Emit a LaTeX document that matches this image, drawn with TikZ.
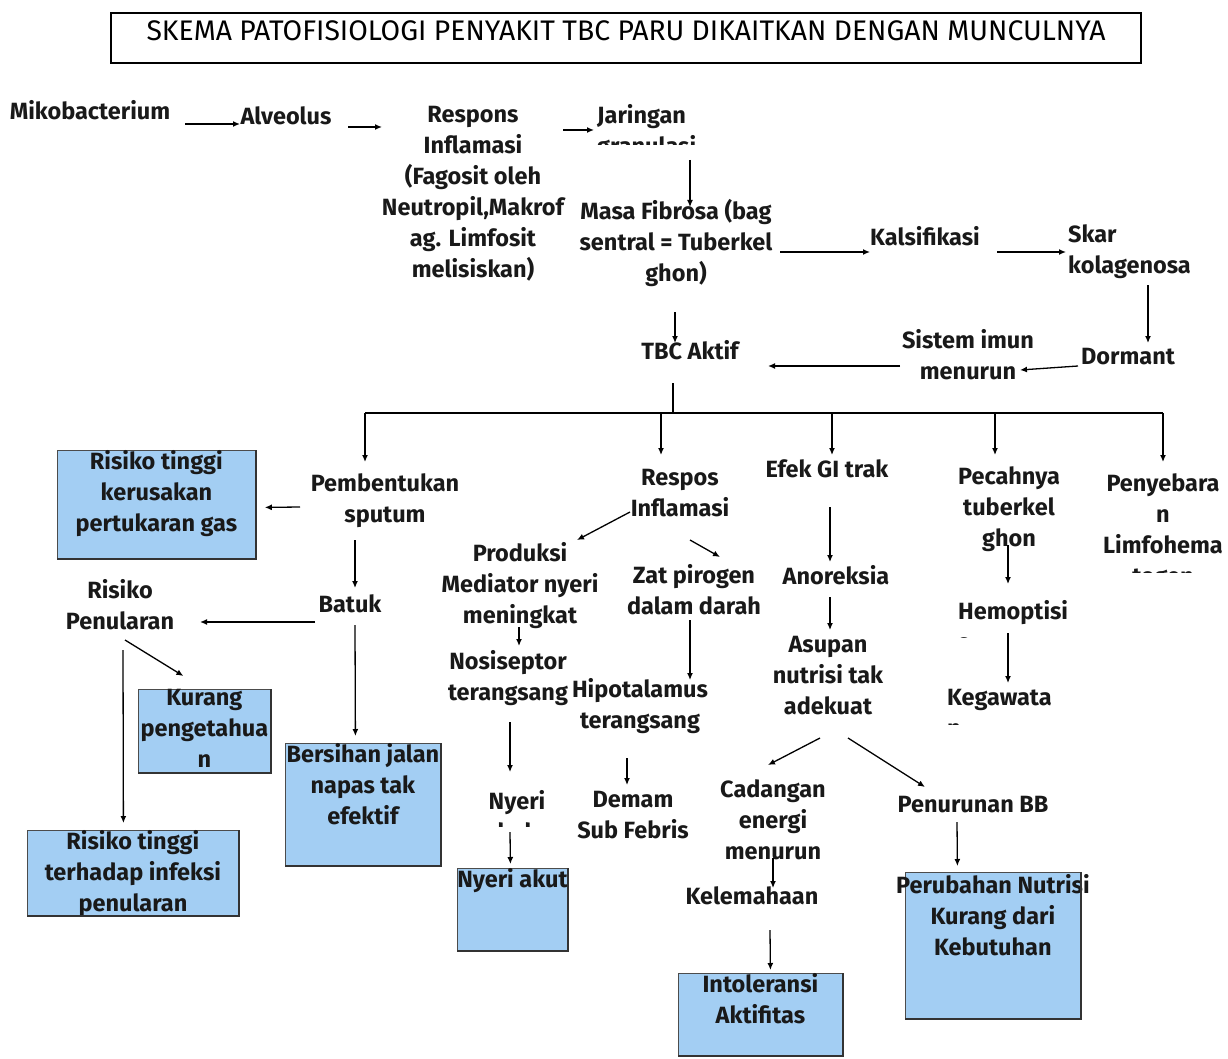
\documentclass[tikz,border=0pt]{standalone}
\usepackage{fontspec}
\setmainfont{Fira Sans}
\usetikzlibrary{arrows.meta}
\definecolor{boxblue}{RGB}{163,206,243}
\begin{document}
\begin{tikzpicture}[x=1pt,y=-1pt,
  t/.style={font=\fontsize{23.5}{31}\selectfont\bfseries, inner sep=0pt, align=center, text=black!90},
  tl/.style={t, align=left, anchor=west},
  arr/.style={-{Latex[length=7pt,width=6pt]}, line width=1.3pt},
  ln/.style={line width=1.3pt},
  box/.style={draw=black!70, line width=0.8pt, fill=boxblue, inner sep=0pt, anchor=north west, text=black!90, font=\fontsize{23.5}{31}\selectfont\bfseries},
  edge3/.style={line width=2.4pt, black!80}
]
\useasboundingbox (0,0) rectangle (1228,1059);

% title
\node[draw=black, line width=2.2pt, anchor=north west, inner sep=0pt] (title) at (110,12)
  {\parbox[c][50pt][t]{1030pt}{\centering\fontsize{28.3}{34}\selectfont\rule{0pt}{27pt}SKEMA PATOFISIOLOGI PENYAKIT TBC PARU DIKAITKAN DENGAN MUNCULNYA}};

% top chain
\node[t] (mik) at (90,110) {Mikobacterium};
\node[t] (alv) at (286,116) {Alveolus};
\node[t] (resp) at (473,193.5) {Respons\\Inflamasi\\(Fagosit oleh\\Neutropil,Makrof\\ag. Limfosit\\melisiskan)};
\begin{scope}
  \clip (590,95) rectangle (770,144.5);
  \node[tl] (jar) at (597,132.5) {Jaringan\\granulasi};
\end{scope}
\node[t] (masa) at (676,243) {Masa Fibrosa (bag\\sentral = Tuberkel\\ghon)};
\node[t] (kal) at (925,236) {Kalsifikasi};
\node[tl] (skar) at (1068,252) {Skar\\kolagenosa};
\node[t] (dorm) at (1128,357) {Dormant};
\node[t] (sis) at (968,355) {Sistem imun\\menurun};
\node[t] (tbc) at (690,350) {TBC Aktif};

\draw[arr] ([shift={(95,14)}]mik.center) -- ([shift={(-46,8)}]alv.center);
\draw[arr] ([shift={(62,11)}]alv.center) -- ([shift={(-91,-66.5)}]resp.center);
\draw[arr] ([shift={(90,-63.5)}]resp.center) -- ([shift={(-3,-2.5)}]jar.west);
\draw[arr] ([shift={(93,27.5)}]jar.west) -- ([shift={(14,-36)}]masa.center);
\draw[arr] ([shift={(104,9)}]masa.center) -- ([shift={(-55,16)}]kal.center);
\draw[arr] ([shift={(72,16)}]kal.center) -- ([shift={(-2,0)}]skar.west);
\draw[arr] ([shift={(80,33)}]skar.west) -- ([shift={(20,-14)}]dorm.center);
\draw[arr] ([shift={(-50,9)}]dorm.center) -- ([shift={(52,15)}]sis.center);
\draw[arr] ([shift={(-68,11)}]sis.center) -- ([shift={(78,16)}]tbc.center);
\draw[arr] ([shift={(-1,69)}]masa.center) -- ([shift={(-15,-7)}]tbc.center);

% bus
\coordinate (b1) at (365,413);
\coordinate (b2) at (661,413);
\coordinate (b3) at (832,413);
\coordinate (b4) at (995,413);
\coordinate (b5) at (1163,413);
\draw[ln] ([shift={(-17,33)}]tbc.center) -- ([shift={(-17,63)}]tbc.center);
\draw[ln] (b1) -- (b5);

% level 2 nodes
\node[t] (pemb) at (385,501) {Pembentukan\\sputum};
\node[t] (respos) at (680,493) {Respos\\Inflamasi};
\node[t] (efek) at (827,469) {Efek GI trak};
\node[t] (pec) at (1009,509) {Pecahnya\\tuberkel\\ghon};
\begin{scope}
  \clip (1080,460) rectangle (1228,572.5);
  \node[t] (peny) at (1163,531.5) {Penyebara\\n\\Limfohema\\togen};
\end{scope}

\draw[arr] (b1) -- ([shift={(-20,-39)}]pemb.center);
\draw[arr] (b2) -- ([shift={(-19,-38)}]respos.center);
\draw[arr] (b3) -- ([shift={(5,-14)}]efek.center);
\draw[arr] (b4) -- ([shift={(-14,-54)}]pec.center);
\draw[arr] (b5) -- ([shift={(0,-69.5)}]peny.center);

% left branch
\node[box] (rk1) at (57,450) {\parbox[c][108pt][t]{198pt}{\centering\rule{0pt}{17pt}Risiko tinggi\\kerusakan\\pertukaran gas}};
\node[t] (batuk) at (350,604) {Batuk};
\node[t] (rp) at (120,605) {Risiko\\Penularan};
\node[box] (kur) at (138,689) {\parbox[c][83pt][t]{132pt}{\centering\rule{0pt}{15pt}Kurang\\pengetahua\\n}};
\node[box] (rti) at (27,830) {\parbox[c][85pt][t]{211pt}{\centering\rule{0pt}{17pt}Risiko tinggi\\terhadap infeksi\\penularan}};
\node[box] (bers) at (285,743) {\parbox[c][122pt][t]{155pt}{\centering\rule{0pt}{15pt}\makebox[\linewidth]{Bersihan jalan}\\napas tak\\efektif}};

\draw[arr] ([shift={(-85,6)}]pemb.center) -- ([shift={(9,3)}]rk1.east);
\draw[arr] ([shift={(-30,39)}]pemb.center) -- ([shift={(5,-16)}]batuk.center);
\draw[arr] ([shift={(-35,18)}]batuk.center) -- ([shift={(80,17)}]rp.center);
\draw[arr] ([shift={(5,35)}]rp.center) -- ([shift={(-21,-13)}]kur.north);
\draw[arr] ([shift={(3,45)}]rp.center) -- ([shift={(-9.5,-7)}]rti.north);
\draw[arr] ([shift={(5,21)}]batuk.center) -- ([shift={(-7.5,-7)}]bers.north);

% middle branch
\node[t] (prod) at (520,586) {Produksi\\Mediator nyeri\\meningkat};
\node[t] (zat) at (694,590) {Zat pirogen\\dalam darah};
\node[t] (nos) at (508,678) {Nosiseptor\\terangsang};
\begin{scope}
  \clip (450,770) rectangle (590,826.5);
  \node[t] (nyeri) at (517,815.5) {Nyeri\\dada};
\end{scope}
\node[box] (nyak) at (457,868) {\parbox[c][82pt][t]{110pt}{\centering\rule{0pt}{18pt}\makebox[\linewidth]{Nyeri akut}}};
\node[t] (hipo) at (640,706) {Hipotalamus\\terangsang};
\node[t] (demam) at (633,815) {Demam\\Sub Febris};

\draw[arr] ([shift={(-50,19)}]respos.center) -- ([shift={(57,-46)}]prod.center);
\draw[arr] ([shift={(10,47)}]respos.center) -- ([shift={(26,-33)}]zat.center);
\draw[arr] ([shift={(-1,41)}]prod.center) -- ([shift={(11,-32)}]nos.center);
\draw[arr] ([shift={(2,44)}]nos.center) -- ([shift={(-7,-43.5)}]nyeri.center);
\draw[arr] ([shift={(-7,16.5)}]nyeri.center) -- ([shift={(-2,-4)}]nyak.north);
\draw[arr] ([shift={(-4,30)}]zat.center) -- ([shift={(50,-26)}]hipo.center);
\draw[arr] ([shift={(-13,52)}]hipo.center) -- ([shift={(-6,-30)}]demam.center);

% GI branch
\node[t] (anor) at (836,575) {Anoreksia};
\node[t] (asup) at (828,676) {Asupan\\nutrisi tak\\adekuat};
\node[t] (cad) at (773,820) {Cadangan\\energi\\menurun};
\node[t] (kel) at (752,896) {Kelemahaan};
\node[box] (into) at (678,973) {\parbox[c][82pt][t]{164pt}{\centering\rule{0pt}{18pt}Intoleransi\\Aktifitas}};
\node[t] (penbb) at (973,805) {Penurunan BB};
\node[box] (perub) at (905,872) {\parbox[c][146pt][t]{175pt}{\centering\rule{0pt}{21pt}\makebox[\linewidth]{Perubahan Nutrisi}\\Kurang dari\\Kebutuhan}};

\draw[arr] ([shift={(3,38)}]efek.center) -- ([shift={(-6,-13)}]anor.center);
\draw[arr] ([shift={(-6,22)}]anor.center) -- ([shift={(2,-46)}]asup.center);
\draw[arr] ([shift={(-8,62)}]asup.center) -- ([shift={(-5,-55)}]cad.center);
\draw[arr] ([shift={(20,62)}]asup.center) -- ([shift={(-48,-18)}]penbb.center);
\draw[arr] ([shift={(0,38)}]cad.center) -- ([shift={(21,-8)}]kel.center);
\draw[arr] ([shift={(18,34)}]kel.center) -- ([shift={(10,-3)}]into.north);
\draw[arr] ([shift={(-16,17)}]penbb.center) -- ([shift={(-35.5,-6)}]perub.north);

% tubercle branch
\begin{scope}
  \clip (950,590) rectangle (1090,637);
  \node[tl] (hem) at (958,625.5) {Hemoptisi\\s};
\end{scope}
\begin{scope}
  \clip (940,680) rectangle (1080,724);
  \node[tl] (keg) at (947,712.5) {Kegawata\\n};
\end{scope}
\draw[arr] ([shift={(-1,36)}]pec.center) -- ([shift={(50,-41.5)}]hem.west);
\draw[arr] ([shift={(50,7.5)}]hem.west) -- ([shift={(61,-29.5)}]keg.west);

% heavy right/bottom edges of boxes
\foreach \b in {rk1,kur,rti,bers,nyak,into,perub}
  \draw[edge3] (\b.north east) -- (\b.south east) -- (\b.south west);
\end{tikzpicture}
\end{document}
